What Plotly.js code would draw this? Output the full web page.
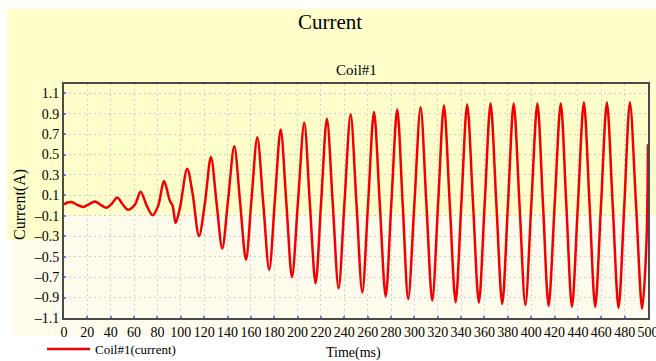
<!DOCTYPE html>
<html>
<head>
<meta charset="utf-8">
<script src="https://cdn.plot.ly/plotly-3.0.1.min.js"></script>
<style>
  html, body { margin: 0; padding: 0; background: #ffffff; }
  #chart { width: 656px; height: 361px; }
</style>
</head>
<body>
<div id="chart"></div>
<script>
// ---- Data ----
// Early small oscillations (0 - 120 ms)
const earlyTime    = [0, 3, 6.6, 11, 16.5, 21, 26.5, 31, 36.5, 41, 45.6, 50.2, 55, 60.8, 65.6, 70.8, 75.9, 80.7, 85.6, 90.7, 93, 95.6, 99.3, 105.5, 110, 115.6, 120.7];
const earlyCurrent = [0.01, 0.03, 0.035, 0.01, -0.013, 0.01, 0.04, 0.01, -0.02, 0.02, 0.08, 0.013, -0.04, 0.01, 0.135, 0.0, -0.095, 0.0, 0.24, 0.045, 0.0, -0.17, -0.02, 0.36, 0.125, -0.30, 0.03];

// Peaks of the growing oscillation
const peakTime    = [125.8, 145.8, 165.5, 185.5, 205.7, 225.1, 245.4, 265.4, 285.3, 305.3, 325.3, 345.2, 365.2, 385, 405.3, 425.3, 445.1, 464.8, 484.5];
const peakCurrent = [0.475, 0.58, 0.67, 0.745, 0.81, 0.85, 0.895, 0.917, 0.94, 0.962, 0.98, 0.99, 0.998, 0.998, 1.0, 1.0, 1.01, 1.01, 1.01];

// Troughs
const troughTime    = [135.5, 155.8, 175.7, 195.2, 215.4, 235.1, 255.4, 275.4, 294.7, 315.3, 335.3, 355.2, 375.2, 395, 414.9, 434.9, 454.8, 474.8, 495];
const troughCurrent = [-0.42, -0.53, -0.63, -0.70, -0.76, -0.81, -0.85, -0.89, -0.914, -0.93, -0.946, -0.95, -0.963, -0.973, -0.98, -0.99, -0.99, -1.0, -1.01];

// Crossing points between the extremes, and the last rise at the right edge
const crossTime    = [130.6, 140.6, 150.8, 160.6, 170.6, 180.6, 190.4, 200.4, 210.5, 220.2, 230.1, 240.2, 250.4, 260.4, 270.4, 280.3, 290.0, 300.0, 310.3, 320.3, 330.3, 340.2, 350.2, 360.2, 370.2, 380.1, 390.0, 400.1, 410.1, 420.1, 430.1, 440.0, 450.0, 459.8, 469.8, 479.7, 489.8, 498.6, 500];
const crossCurrent = [0.03, 0.07, 0.03, 0.07, 0.02, 0.06, 0.02, 0.05, 0.02, 0.04, 0.02, 0.04, 0.02, 0.03, 0.01, 0.03, 0.01, 0.02, 0.01, 0.02, 0.01, 0.02, 0.02, 0.02, 0.01, 0.01, 0.01, 0.01, 0.01, 0.01, 0.0, 0.01, 0.0, 0.01, 0.0, 0.0, 0.0, -0.39, 0.6];

const xTicks = [0, 20, 40, 60, 80, 100, 120, 140, 160, 180, 200, 220, 240, 260, 280, 300, 320, 340, 360, 380, 400, 420, 440, 460, 480, 500];
const yTicks = [-1.1, -0.9, -0.7, -0.5, -0.3, -0.1, 0.1, 0.3, 0.5, 0.7, 0.9, 1.1];

// ---- Merge the observed points into one time-ordered series ----
const pts = [];
earlyTime.forEach((t, i) => pts.push([t, earlyCurrent[i]]));
peakTime.forEach((t, i) => pts.push([t, peakCurrent[i]]));
troughTime.forEach((t, i) => pts.push([t, troughCurrent[i]]));
crossTime.forEach((t, i) => pts.push([t, crossCurrent[i]]));
pts.sort((a, b) => a[0] - b[0]);
const timeMs = pts.map(p => p[0]);
const current = pts.map(p => p[1]);

const FONT = '"Liberation Serif", "Times New Roman", Times, serif';

// pixel helpers for paper coords (plot area: x 64..648, y 84..318)
const L = 64, R = 648, T = 84, B = 318;
const px = x => (x - L) / (R - L);
const py = y => (B - y) / (B - T);

const trace = {
  x: timeMs,
  y: current,
  type: 'scatter',
  mode: 'lines',
  name: 'Coil#1(current)',
  line: { color: '#f20000', width: 2.5, shape: 'spline', smoothing: 0.9 }
};

const layout = {
  width: 656,
  height: 361,
  margin: { l: L, r: 656 - R, t: T, b: 361 - B, pad: 0, autoexpand: false },
  paper_bgcolor: '#ffffff',
  plot_bgcolor: 'rgba(0,0,0,0)',
  font: { family: FONT, size: 14, color: '#000000' },
  showlegend: true,
  legend: {
    x: px(42), y: py(349), xanchor: 'left', yanchor: 'middle',
    orientation: 'h', bgcolor: 'rgba(0,0,0,0)', borderwidth: 0,
    itemwidth: 43,
    font: { family: FONT, size: 13, color: '#000000' }
  },
  xaxis: {
    range: [0, 500],
    tickmode: 'array', tickvals: xTicks, ticktext: xTicks.map(String),
    showgrid: true, gridcolor: '#cfcfd4', griddash: '2px,3px', gridwidth: 1,
    zeroline: false,
    showline: true, linecolor: '#4a4a4a', linewidth: 2, mirror: true,
    ticks: 'inside', ticklen: 2, tickwidth: 2, tickcolor: '#6a7cf0',
    tickfont: { family: FONT, size: 14, color: '#000' },
    ticklabeloverflow: 'allow',
    fixedrange: true
  },
  yaxis: {
    range: [-1.1, 1.19],
    tickmode: 'array', tickvals: yTicks, ticktext: yTicks.map(v => v.toFixed(1).replace('-', '\u2013')),
    showgrid: true, gridcolor: '#cfcfd4', griddash: '2px,3px', gridwidth: 1,
    zeroline: false,
    showline: true, linecolor: '#4a4a4a', linewidth: 2, mirror: true,
    ticks: 'inside', ticklen: 2, tickwidth: 2, tickcolor: '#6a7cf0',
    tickfont: { family: FONT, size: 14, color: '#000' },
    fixedrange: true
  },
  shapes: [
    // pale yellow upper background
    { type: 'rect', xref: 'paper', yref: 'paper', layer: 'below',
      x0: px(7), x1: px(656), y0: py(215), y1: py(9),
      fillcolor: '#ffffcc', line: { width: 0 } },
    // cream lower background
    { type: 'rect', xref: 'paper', yref: 'paper', layer: 'below',
      x0: px(13), x1: px(650), y0: py(336), y1: py(215),
      fillcolor: '#fffcee', line: { width: 0 } },
    // yellow strip behind the axis label column
    { type: 'rect', xref: 'paper', yref: 'paper', layer: 'below',
      x0: px(7), x1: px(62), y0: py(240), y1: py(215),
      fillcolor: '#ffffcc', line: { width: 0 } }
  ],
  annotations: [
    { text: 'Current', xref: 'paper', yref: 'paper', x: px(330), y: py(22),
      xanchor: 'center', yanchor: 'middle', showarrow: false,
      font: { family: FONT, size: 21, color: '#000' } },
    { text: 'Coil#1', xref: 'paper', yref: 'paper', x: px(356), y: py(70),
      xanchor: 'center', yanchor: 'middle', showarrow: false,
      font: { family: FONT, size: 15, color: '#000' } },
    { text: 'Current(A)', xref: 'paper', yref: 'paper', x: px(20), y: py(205),
      xanchor: 'center', yanchor: 'middle', showarrow: false, textangle: -90,
      font: { family: FONT, size: 16, color: '#000' } },
    { text: 'Time(ms)', xref: 'paper', yref: 'paper', x: px(353), y: py(353),
      xanchor: 'center', yanchor: 'middle', showarrow: false,
      font: { family: FONT, size: 14, color: '#000' } }
  ]
};

Plotly.newPlot('chart', [trace], layout, { displayModeBar: false, staticPlot: true });
</script>
</body>
</html>
